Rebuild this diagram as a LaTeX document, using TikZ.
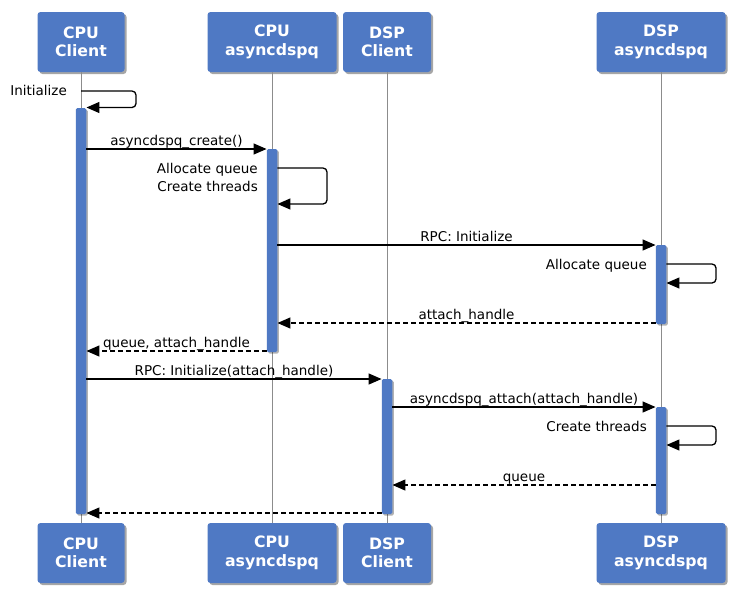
\documentclass[tikz,border=0pt]{standalone}
\usepackage{fontspec}
\setmainfont{DejaVu Sans}
\usetikzlibrary{arrows.meta,shadows}
\definecolor{boxblue}{RGB}{79,121,196}
\definecolor{lifegray}{RGB}{140,140,140}
\tikzset{
  actor/.style={fill=boxblue, rounded corners=3pt, text=white,
    font=\fontsize{15.7}{18.5}\selectfont\bfseries, align=center,
    minimum height=60pt, inner sep=0pt,
    drop shadow={shadow xshift=2pt, shadow yshift=-2pt, opacity=.35, fill=black}},
  bar/.style={fill=boxblue, minimum width=10.5pt, inner sep=0pt, rounded corners=1.5pt,
    drop shadow={shadow xshift=1.5pt, shadow yshift=-1.5pt, opacity=.3, fill=black}},
  msg/.style={line width=1.3pt, -{Triangle[length=13pt,width=11pt]}},
  reply/.style={msg, dash pattern=on 5pt off 3pt},
  lbl/.style={font=\fontsize{13.5}{18}\selectfont, inner sep=0pt, anchor=base},
  life/.style={draw=lifegray, line width=1pt}
}
\begin{document}
\begin{tikzpicture}[x=1pt,y=-1pt]
\useasboundingbox (0,0) rectangle (738,592);
% actors, top and bottom
\node[actor, minimum width=87pt] (cc) at (81,42) {CPU\\Client};
\node[actor, minimum width=129pt] (ca) at (272,42) {CPU\\asyncdspq};
\node[actor, minimum width=88pt] (dc) at (387,42) {DSP\\Client};
\node[actor, minimum width=129pt] (da) at (661,42) {DSP\\asyncdspq};
\node[actor, minimum width=87pt] (cc2) at (81,553) {CPU\\Client};
\node[actor, minimum width=129pt] (ca2) at (272,553) {CPU\\asyncdspq};
\node[actor, minimum width=88pt] (dc2) at (387,553) {DSP\\Client};
\node[actor, minimum width=129pt] (da2) at (661,553) {DSP\\asyncdspq};
% lifelines
\draw[life] (cc) -- (cc2);
\draw[life] (ca) -- (ca2);
\draw[life] (dc) -- (dc2);
\draw[life] (da) -- (da2);
% activations
\node[bar, minimum height=406pt] (b1) at (81,311) {};
\node[bar, minimum height=203pt] (b2) at (272,250.5) {};
\node[bar, minimum height=79pt] (b3) at (661,284.5) {};
\node[bar, minimum height=135pt] (b4) at (387,446.5) {};
\node[bar, minimum height=107pt] (b5) at (661,460.5) {};
% messages
\node[lbl, anchor=base east] (linit) at (67,95) {Initialize};
\draw[msg, rounded corners=4pt] (cc.south |- 0,91) -| (136,107.5) -- (b1.east |- 0,107.5);
\draw[msg] (b1.east |- 0,149) -- (b2.west |- 0,149)
  node[lbl, midway, yshift=4pt] (lcreate) {asyncdspq\_create()};
\node[lbl, anchor=base east] (lalloc) at (258,173) {Allocate queue};
\node[lbl, anchor=base east] (lthreads) at (258,191) {Create threads};
\draw[msg, rounded corners=4pt] (b2.east |- 0,168) -| (327,204) -- (b2.east |- 0,204);
\draw[msg] (b2.east |- 0,245) -- (b3.west |- 0,245)
  node[lbl, midway, yshift=4pt] (lrpc) {RPC: Initialize};
\node[lbl, anchor=base east] (lalloc2) at (647,269) {Allocate queue};
\draw[msg, rounded corners=4pt] (b3.east |- 0,264) -| (716,283) -- (b3.east |- 0,283);
\draw[reply] (b3.west |- 0,323) -- (b2.east |- 0,323)
  node[lbl, midway, yshift=4pt] (lhandle) {attach\_handle};
\draw[reply] (b2.west |- 0,351) -- (b1.east |- 0,351)
  node[lbl, midway, yshift=4pt] (lqh) {queue, attach\_handle};
\draw[msg] (b1.east |- 0,379) -- (b4.west |- 0,379)
  node[lbl, midway, yshift=4pt] (lrpc2) {RPC: Initialize(attach\_handle)};
\draw[msg] (b4.east |- 0,407) -- (b5.west |- 0,407)
  node[lbl, midway, yshift=4pt] (lattach) {asyncdspq\_attach(attach\_handle)};
\node[lbl, anchor=base east] (lthreads2) at (647,431) {Create threads};
\draw[msg, rounded corners=4pt] (b5.east |- 0,426) -| (716,445) -- (b5.east |- 0,445);
\draw[reply] (b5.west |- 0,485) -- (b4.east |- 0,485)
  node[lbl, midway, yshift=4pt] (lqueue) {queue};
\draw[reply] (b4.west |- 0,513) -- (b1.east |- 0,513);
\end{tikzpicture}
\end{document}
